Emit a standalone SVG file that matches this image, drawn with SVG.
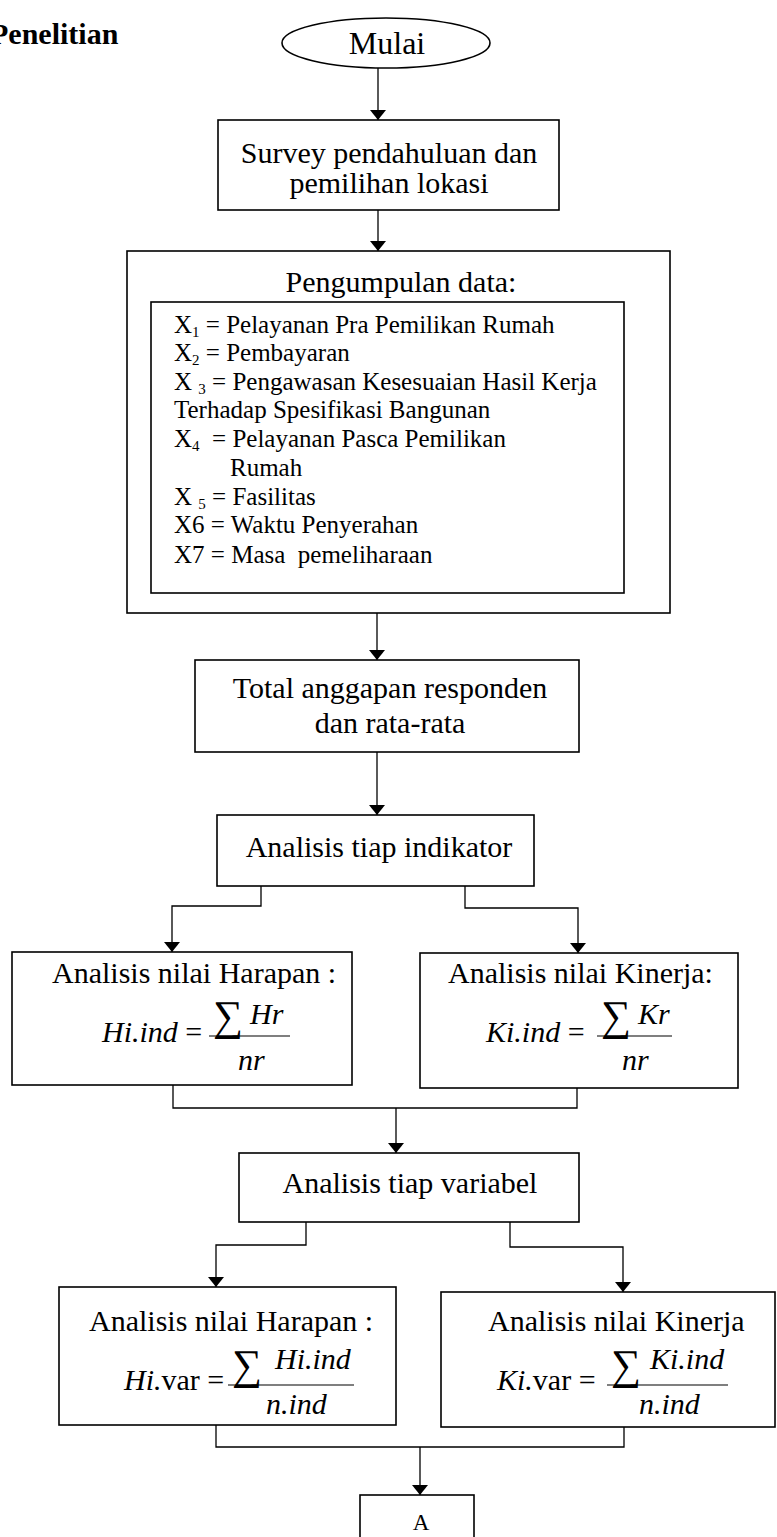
<svg xmlns="http://www.w3.org/2000/svg" width="777" height="1537" viewBox="0 0 777 1537">
<defs>
<style>
.box{fill:#fff;stroke:#000;stroke-width:1.6}
.ln{fill:none;stroke:#000;stroke-width:1.3}
.t{font-family:"Liberation Serif","Times New Roman",serif;fill:#000}
.lb{font-size:30px}
.dt{font-size:25px}
.it{font-style:italic}
.sum{font-size:42px}
.fr{stroke:#000;stroke-width:1.2}
</style>
<marker id="ah" viewBox="0 0 10 16" refX="10" refY="8" markerWidth="10" markerHeight="16" markerUnits="userSpaceOnUse" orient="auto">
<path d="M0,0 L10,8 L0,16 Z" fill="#000"/>
</marker>
</defs>
<rect width="777" height="1537" fill="#fff"/>
<text class="t" x="-10" y="44" font-size="30" font-weight="bold">Penelitian</text>

<g id="connectors">
<line class="ln" x1="378" y1="68" x2="378" y2="120" marker-end="url(#ah)"/>
<line class="ln" x1="378" y1="210" x2="378" y2="251" marker-end="url(#ah)"/>
<line class="ln" x1="377" y1="613" x2="377" y2="660" marker-end="url(#ah)"/>
<line class="ln" x1="377" y1="752" x2="377" y2="815" marker-end="url(#ah)"/>
<polyline class="ln" points="261,886 261,906 172,906 172,952" marker-end="url(#ah)"/>
<polyline class="ln" points="465,886 465,908 578,908 578,953" marker-end="url(#ah)"/>
<polyline class="ln" points="173,1085 173,1108 577,1108 577,1088"/>
<line class="ln" x1="396" y1="1108" x2="396" y2="1153" marker-end="url(#ah)"/>
<polyline class="ln" points="306,1222 306,1245 216,1245 216,1287" marker-end="url(#ah)"/>
<polyline class="ln" points="510,1222 510,1247 623,1247 623,1292" marker-end="url(#ah)"/>
<polyline class="ln" points="216,1425 216,1447 624,1447 624,1427"/>
<line class="ln" x1="420" y1="1447" x2="420" y2="1495" marker-end="url(#ah)"/>
</g>

<g id="mulai">
<ellipse class="box" cx="386" cy="43" rx="104" ry="25"/>
<text class="t" x="387" y="54" font-size="32" text-anchor="middle">Mulai</text>
</g>

<g id="survey">
<rect class="box" x="218" y="120" width="341" height="90"/>
<text class="t lb" x="389" y="163" text-anchor="middle">Survey pendahuluan dan</text>
<text class="t lb" x="389" y="193" text-anchor="middle">pemilihan lokasi</text>
</g>

<g id="pengumpulan">
<rect class="box" x="127" y="251" width="543" height="362"/>
<text class="t lb" x="401" y="292" text-anchor="middle">Pengumpulan data:</text>
<rect class="box" x="151" y="302" width="473" height="291"/>
<text class="t dt" x="174" y="333">X<tspan font-size="15" dy="4">1</tspan><tspan dy="-4"> = Pelayanan Pra Pemilikan Rumah</tspan></text>
<text class="t dt" x="174" y="361">X<tspan font-size="15" dy="4">2</tspan><tspan dy="-4"> = Pembayaran</tspan></text>
<text class="t dt" x="174" y="390">X <tspan font-size="15" dy="4">3</tspan><tspan dy="-4"> = Pengawasan Kesesuaian Hasil Kerja</tspan></text>
<text class="t dt" x="174" y="418">Terhadap Spesifikasi Bangunan</text>
<text class="t dt" x="174" y="447" xml:space="preserve">X<tspan font-size="15" dy="4">4</tspan><tspan dy="-4">  = Pelayanan Pasca Pemilikan</tspan></text>
<text class="t dt" x="230" y="476">Rumah</text>
<text class="t dt" x="174" y="505">X <tspan font-size="15" dy="4">5</tspan><tspan dy="-4"> = Fasilitas</tspan></text>
<text class="t dt" x="174" y="533">X6 = Waktu Penyerahan</text>
<text class="t dt" x="174" y="563" xml:space="preserve">X7 = Masa  pemeliharaan</text>
</g>

<g id="total">
<rect class="box" x="195" y="660" width="384" height="92"/>
<text class="t lb" x="390" y="698" text-anchor="middle">Total anggapan responden</text>
<text class="t lb" x="390" y="733" text-anchor="middle">dan rata-rata</text>
</g>

<g id="indikator">
<rect class="box" x="217" y="815" width="317" height="71"/>
<text class="t lb" x="379" y="857" text-anchor="middle">Analisis tiap indikator</text>
</g>

<g id="harapan-ind">
<rect class="box" x="12" y="952" width="340" height="133"/>
<text class="t lb" x="52" y="983">Analisis nilai Harapan :</text>
<text class="t lb" x="102" y="1042"><tspan class="it">Hi.ind</tspan> =</text>
<line class="fr" x1="209" y1="1036" x2="290" y2="1036"/>
<text class="t sum" x="213" y="1030">∑</text>
<text class="t lb it" x="250" y="1024">Hr</text>
<text class="t lb it" x="238" y="1070">nr</text>
</g>

<g id="kinerja-ind">
<rect class="box" x="420" y="953" width="318" height="135"/>
<text class="t lb" x="448" y="983">Analisis nilai Kinerja:</text>
<text class="t lb" x="486" y="1042"><tspan class="it">Ki.ind</tspan> =</text>
<line class="fr" x1="597" y1="1036" x2="672" y2="1036"/>
<text class="t sum" x="601" y="1030">∑</text>
<text class="t lb it" x="638" y="1024">Kr</text>
<text class="t lb it" x="622" y="1070">nr</text>
</g>

<g id="variabel">
<rect class="box" x="239" y="1153" width="340" height="69"/>
<text class="t lb" x="410" y="1193" text-anchor="middle">Analisis tiap variabel</text>
</g>

<g id="harapan-var">
<rect class="box" x="59" y="1287" width="337" height="138"/>
<text class="t lb" x="89" y="1331">Analisis nilai Harapan :</text>
<text class="t lb" x="124" y="1390"><tspan class="it">Hi.</tspan>var =</text>
<line class="fr" x1="228" y1="1385" x2="354" y2="1385"/>
<text class="t sum" x="232" y="1379">∑</text>
<text class="t lb it" x="275" y="1369">Hi.ind</text>
<text class="t lb it" x="266" y="1414">n.ind</text>
</g>

<g id="kinerja-var">
<rect class="box" x="441" y="1292" width="334" height="135"/>
<text class="t lb" x="488" y="1331">Analisis nilai Kinerja</text>
<text class="t lb" x="497" y="1390"><tspan class="it">Ki.</tspan>var =</text>
<line class="fr" x1="607" y1="1385" x2="728" y2="1385"/>
<text class="t sum" x="611" y="1379">∑</text>
<text class="t lb it" x="650" y="1369">Ki.ind</text>
<text class="t lb it" x="639" y="1414">n.ind</text>
</g>

<g id="a">
<rect class="box" x="360" y="1495" width="114" height="50"/>
<text class="t" x="421" y="1530" font-size="23" text-anchor="middle">A</text>
</g>
</svg>
